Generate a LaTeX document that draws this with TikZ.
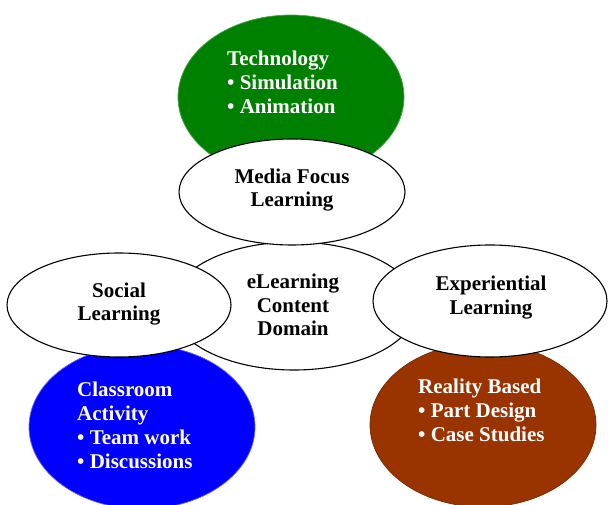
\documentclass[tikz,border=0pt]{standalone}
\usepackage{fontspec}
\setmainfont{Liberation Serif}
\usetikzlibrary{shapes.geometric,positioning}
\definecolor{techgreen}{RGB}{0,128,0}
\definecolor{classblue}{RGB}{0,0,255}
\definecolor{realbrown}{RGB}{153,51,0}
\tikzset{
  bubble/.style={ellipse,draw=black,line width=1.1pt,fill=white,inner sep=0pt},
  topic/.style={ellipse,line width=0.7pt,inner sep=0pt,minimum width=226pt,minimum height=164pt},
  caption/.style={font=\fontsize{21}{23.5}\selectfont\bfseries,align=center,inner sep=0pt},
  listing/.style={font=\fontsize{21}{24}\selectfont\bfseries,text=white,align=left,anchor=west,inner sep=0pt}
}
\begin{document}
\begin{tikzpicture}[x=1pt,y=-1pt]
  \useasboundingbox (0,0) rectangle (608,505);
  % coloured topics
  \node[topic,fill=techgreen,draw=techgreen!70!white] (tech) at (291,97) {};
  \node[topic,fill=classblue,draw=classblue!60!white] (class) at (142,427) {};
  \node[topic,fill=realbrown,draw=realbrown!80!black] (real) at (483,425) {};
  \node[listing] (techtext) at (227,82) {Technology\\\textbullet\ Simulation\\\textbullet\ Animation};
  \node[listing] (classtext) at (77,425) {Classroom\\Activity\\\textbullet\ Team work\\\textbullet\ Discussions};
  \node[listing] (realtext) at (418,410) {Reality Based\\\textbullet\ Part Design\\\textbullet\ Case Studies};
  % learning bubbles
  \node[bubble,minimum width=246pt,minimum height=128pt] (domain) at (294,306) {};
  \node[bubble,minimum width=226pt,minimum height=106pt] (media) at (292,192) {};
  \node[bubble,minimum width=224pt,minimum height=104pt] (social) at (119,305) {};
  \node[bubble,minimum width=234pt,minimum height=112pt] (exper) at (490,301) {};
  \node[caption] (domaintext) at (293,305) {eLearning\\Content\\Domain};
  \node[caption] (mediatext) at (292,190) {Media Focus\\Learning};
  \node[caption] (socialtext) at (119,304) {Social\\Learning};
  \node[caption] (expertext) at (491,297.5) {Experiential\\Learning};
\end{tikzpicture}
\end{document}
